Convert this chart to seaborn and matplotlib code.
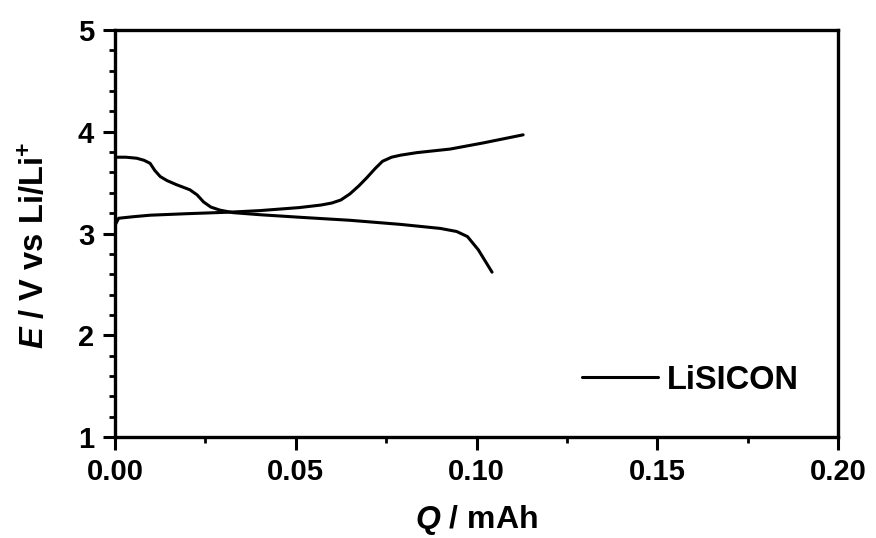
import matplotlib
matplotlib.use("Agg")
import matplotlib.pyplot as plt
import seaborn as sns
import pandas as pd
from matplotlib.ticker import MultipleLocator

# Charge branch (voltage rising)
charge_q = [0.0, 0.001, 0.005, 0.0097, 0.02, 0.0318, 0.04, 0.051, 0.057, 0.060, 0.0625,
            0.065, 0.0675, 0.0697, 0.072, 0.074, 0.0765, 0.079, 0.0835, 0.0927, 0.1018, 0.1129]
charge_e = [3.08, 3.15, 3.165, 3.18, 3.195, 3.21, 3.225, 3.255, 3.28, 3.30, 3.33,
            3.39, 3.47, 3.55, 3.64, 3.71, 3.75, 3.77, 3.795, 3.83, 3.89, 3.97]

# Discharge branch (voltage falling)
discharge_q = [0.0, 0.003, 0.006, 0.008, 0.0097, 0.011, 0.0125, 0.0144, 0.017, 0.0207,
               0.0227, 0.0245, 0.0265, 0.029, 0.0327, 0.04, 0.051, 0.065, 0.0789,
               0.090, 0.0945, 0.0975, 0.1005, 0.1043]
discharge_e = [3.75, 3.75, 3.74, 3.72, 3.69, 3.62, 3.56, 3.52, 3.48, 3.43,
               3.38, 3.31, 3.26, 3.23, 3.205, 3.185, 3.16, 3.13, 3.09,
               3.05, 3.02, 2.97, 2.84, 2.62]

series_label = "LiSICON"
x_ticks = [0.00, 0.05, 0.10, 0.15, 0.20]
y_ticks = [1, 2, 3, 4, 5]

sns.set_theme(style="ticks")
plt.rcParams['font.family'] = ['Liberation Sans', 'DejaVu Sans']
plt.rcParams['font.weight'] = 'bold'
plt.rcParams['mathtext.fontset'] = 'custom'
plt.rcParams['mathtext.rm'] = 'Liberation Sans:bold'
plt.rcParams['mathtext.it'] = 'Liberation Sans:italic:bold'
plt.rcParams['mathtext.bf'] = 'Liberation Sans:bold'
for k in ['text.color', 'axes.labelcolor', 'xtick.color', 'ytick.color', 'axes.edgecolor']:
    plt.rcParams[k] = 'black'

fig = plt.figure(figsize=(8.76, 5.38), dpi=100)
ax = fig.add_axes([0.1313, 0.1877, 0.8253, 0.7565])

df_c = pd.DataFrame({"Q": charge_q, "E": charge_e})
df_d = pd.DataFrame({"Q": discharge_q, "E": discharge_e})
sns.lineplot(data=df_c, x="Q", y="E", sort=False, color="black", linewidth=2.2, ax=ax, label=series_label)
sns.lineplot(data=df_d, x="Q", y="E", sort=False, color="black", linewidth=2.2, ax=ax)

ax.set_xlim(0, 0.20)
ax.set_ylim(1, 5)
ax.set_xticks(x_ticks)
ax.set_xticklabels([f"{t:.2f}" for t in x_ticks])
ax.set_yticks(y_ticks)
ax.set_yticklabels([str(t) for t in y_ticks])
ax.xaxis.set_minor_locator(MultipleLocator(0.025))
ax.yaxis.set_minor_locator(MultipleLocator(0.2))

for s in ax.spines.values():
    s.set_linewidth(2.4)
    s.set_color("black")
ax.tick_params(which="major", direction="out", length=9, width=2.2, labelsize=21, pad=6, colors="black")
ax.tick_params(which="minor", direction="out", length=4.5, width=2.0, colors="black")
for lab in ax.get_xticklabels() + ax.get_yticklabels():
    lab.set_fontweight("bold")

ax.set_xlabel(r"$\mathit{Q}$ / mAh", fontsize=23, fontweight="bold", labelpad=12.5)
ax.set_ylabel(r"$\mathit{E}$ / V vs Li/Li$^{+}$", fontsize=23.5, fontweight="bold")
ax.yaxis.set_label_coords(-0.088, 0.47)

leg = ax.legend(loc="center left", bbox_to_anchor=(0.646, 0.14), frameon=False,
                fontsize=23.5, handlelength=2.33, handletextpad=0.28, borderpad=0, borderaxespad=0)
for t in leg.get_texts():
    t.set_fontweight("bold")

fig.savefig("out.png", dpi=100)
